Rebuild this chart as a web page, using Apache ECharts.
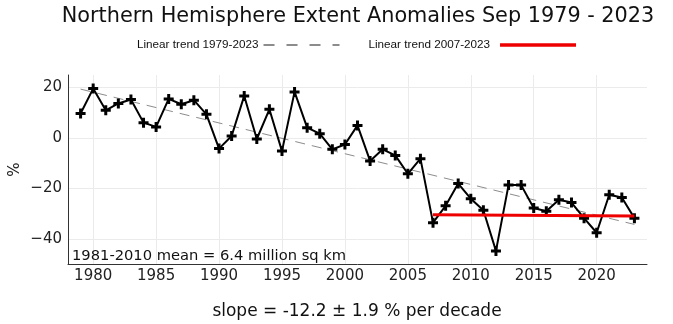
<!DOCTYPE html>
<html>
<head>
<meta charset="utf-8">
<script src="https://cdn.jsdelivr.net/npm/echarts@6/dist/echarts.min.js"></script>
<style>
  html, body { margin: 0; padding: 0; background: #fff; }
  #chart { width: 673px; height: 324px; }
</style>
</head>
<body>
<div id="chart"></div>
<script>
// September Northern Hemisphere sea-ice extent anomalies (% of 1981-2010 mean)
const years = [1979, 1980, 1981, 1982, 1983, 1984, 1985, 1986, 1987, 1988,
  1989, 1990, 1991, 1992, 1993, 1994, 1995, 1996, 1997, 1998,
  1999, 2000, 2001, 2002, 2003, 2004, 2005, 2006, 2007, 2008,
  2009, 2010, 2011, 2012, 2013, 2014, 2015, 2016, 2017, 2018,
  2019, 2020, 2021, 2022, 2023];
const anomalies = [9.7, 19.6, 11.0, 13.7, 15.3, 6.1, 4.4, 15.5, 13.4, 15.0,
  9.4, -4.2, 0.8, 16.7, -0.4, 11.4, -5.2, 18.3, 4.1, 1.7,
  -4.5, -2.6, 5.0, -9.1, -4.5, -6.9, -14.2, -8.2, -33.6, -26.9,
  -18.1, -24.1, -28.7, -44.8, -18.7, -18.7, -27.8, -29.1, -24.5, -25.6,
  -31.8, -37.6, -22.5, -23.6, -31.8];

// Fitted trend end points
const trendAllYears = [1979, 2023];
const trendAllValues = [19.4, -34.3];
const trendRecentYears = [2007, 2023];
const trendRecentValues = [-30.5, -31.0];

// Axis ticks
const xTicks = [1980, 1985, 1990, 1995, 2000, 2005, 2010, 2015, 2020];
const yTicks = [-40, -20, 0, 20];

const pair = (xs, ys) => xs.map((x, i) => [x, ys[i]]);

const plusSymbol = 'path://M3.5,0H6.5V3.5H10V6.5H6.5V10H3.5V6.5H0V3.5H3.5Z';
const FONT = 'DejaVu Sans';

const chart = echarts.init(document.getElementById('chart'), null, { renderer: 'canvas' });

chart.setOption({
  animation: false,
  backgroundColor: '#ffffff',
  grid: { left: 68, right: 26, top: 75, bottom: 60, containLabel: false, outerBoundsMode: 'none' },
  legend: {
    left: 137,
    top: 39,
    padding: 0,
    align: 'right',
    itemWidth: 76,
    itemHeight: 12,
    itemGap: 28,
    itemStyle: { opacity: 0 },
    textStyle: { fontFamily: 'Liberation Sans', fontSize: 11.7, color: '#111' },
    data: [
      { name: 'Linear trend 1979-2023', lineStyle: { type: [11, 12] } },
      { name: 'Linear trend 2007-2023', lineStyle: { width: 3.5 },
        textStyle: { padding: [0, 5, 0, 0] } }
    ]
  },
  xAxis: {
    type: 'value',
    min: 1978,
    max: 2024,
    axisLine: { show: true, onZero: false, lineStyle: { color: '#333', width: 1 } },
    axisTick: { show: false, customValues: xTicks },
    axisLabel: {
      customValues: xTicks,
      fontFamily: FONT, fontSize: 15, color: '#222', margin: 5,
      formatter: v => String(v)
    },
    splitLine: { show: true, lineStyle: { color: '#ebebeb', width: 1 } }
  },
  yAxis: {
    type: 'value',
    min: -50,
    max: 25,
    name: '%',
    nameLocation: 'middle',
    nameGap: 45,
    nameMoveOverlap: false,
    nameTextStyle: { fontFamily: FONT, fontSize: 15, color: '#222' },
    axisLine: { show: true, onZero: false, lineStyle: { color: '#333', width: 1 } },
    axisTick: { show: false, customValues: yTicks },
    axisLabel: {
      customValues: yTicks,
      fontFamily: FONT, fontSize: 15, color: '#222', margin: 6,
      formatter: v => (v < 0 ? '\u2212' + Math.abs(v) : String(v))
    },
    splitLine: { show: true, lineStyle: { color: '#ebebeb', width: 1 } }
  },
  series: [
    {
      name: 'Linear trend 1979-2023',
      type: 'line',
      data: pair(trendAllYears, trendAllValues),
      symbol: 'none',
      lineStyle: { color: '#8c8c8c', width: 1, type: [10, 7] },
      itemStyle: { color: '#8c8c8c' },
      z: 2
    },
    {
      name: 'Anomaly',
      type: 'line',
      data: pair(years, anomalies),
      symbol: plusSymbol,
      symbolSize: 10,
      lineStyle: { color: '#000', width: 2 },
      itemStyle: { color: '#000' },
      z: 3
    },
    {
      name: 'Linear trend 2007-2023',
      type: 'line',
      data: pair(trendRecentYears, trendRecentValues),
      symbol: 'none',
      lineStyle: { color: '#ee0000', width: 3 },
      itemStyle: { color: '#ee0000' },
      z: 4
    }
  ],
  graphic: [
    {
      type: 'text', z: 100,
      style: {
        text: 'Northern Hemisphere Extent Anomalies Sep 1979 - 2023',
        font: '20.8px "DejaVu Sans"', fill: '#111',
        textAlign: 'center', textVerticalAlign: 'middle'
      },
      x: 358, y: 17
    },
    {
      type: 'text', z: 100,
      style: {
        text: '1981-2010 mean = 6.4 million sq km',
        font: '14.7px "DejaVu Sans"', fill: '#111',
        textAlign: 'left', textVerticalAlign: 'middle'
      },
      x: 72, y: 256
    },
    {
      type: 'text', z: 100,
      style: {
        text: 'slope = -12.2 \u00b1 1.9 % per decade',
        font: '17px "DejaVu Sans"', fill: '#111',
        textAlign: 'center', textVerticalAlign: 'middle'
      },
      x: 357, y: 312
    }
  ]
});
</script>
</body>
</html>
